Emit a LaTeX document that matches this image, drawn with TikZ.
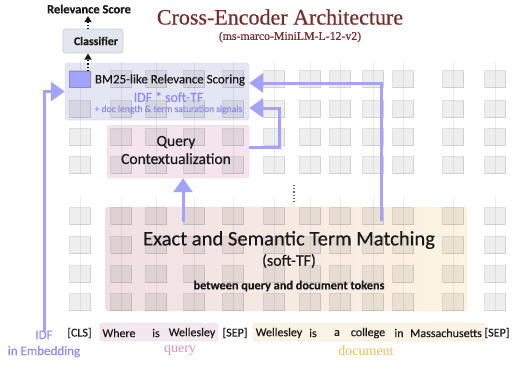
\documentclass[tikz,border=0pt]{standalone}
\usepackage{fontspec}
\setmainfont[FakeBold=0.35]{Carlito}
\newfontfamily\titlefont[FakeBold=0.5]{Liberation Serif}
\newfontfamily\labelfont{Liberation Serif}
\usetikzlibrary{arrows.meta}
\definecolor{lav}{HTML}{A3A3FB}
\definecolor{lavtext}{HTML}{8C8CF0}
\definecolor{titlered}{HTML}{7A2C2C}
\definecolor{bmfill}{HTML}{E4E6F3}
\definecolor{bmdraw}{HTML}{D2D4E2}
\definecolor{qcfill}{HTML}{F3E5EB}
\definecolor{qcdraw}{HTML}{E6D4DC}
\definecolor{emleft}{HTML}{EFDFE4}
\definecolor{emright}{HTML}{FDF4E2}
\definecolor{qhl}{HTML}{F4E8EE}
\definecolor{dhl}{HTML}{FBF3E3}
\definecolor{qlabel}{HTML}{E590B4}
\definecolor{dlabel}{HTML}{E9BE5C}
\definecolor{clsfill}{HTML}{E4E6EE}
\definecolor{clsdraw}{HTML}{C9CBD6}
\definecolor{ink}{HTML}{1A1A1A}
\begin{document}
\begin{tikzpicture}[x=1pt,y=-1pt,
  panel/.style={rounded corners=3pt, inner sep=0pt},
  tok/.style={fill=black, fill opacity=0.065, draw=black, draw opacity=0.12, line width=0.8pt},
  gridline/.style={draw=black, draw opacity=0.07, line width=0.6pt},
  bigarrow/.style={draw=lav, line width=3pt, -{Triangle[width=19pt,length=14pt]}},
  dotarrow/.style={draw=ink, line width=1.2pt, dotted, -{Triangle[width=7pt,length=6pt]}},
  txt/.style={text=ink, inner sep=0pt},
  token/.style={text=ink, inner sep=0pt, font=\fontsize{12}{12}\selectfont}
]
\useasboundingbox (0,0) rectangle (515,368);

% panels
\node[panel, fill=bmfill, draw=bmdraw, minimum width=184pt, minimum height=57pt] (bm) at (157,91.5) {};
\node[panel, fill=qcfill, draw=qcdraw, minimum width=142pt, minimum height=53pt] (qc) at (178,151.5) {};
\node[panel, left color=emleft, right color=emright, draw=black!8, minimum width=362pt, minimum height=104pt] (em) at (286,259) {};

% grid lines
\foreach \cx in {80,121,156,194,233,274,310,340,373,403,453,495}{
  \draw[gridline] (\cx,62) -- (\cx,174);
  \draw[gridline] (\cx,197) -- (\cx,311);
}
% token boxes
\foreach \cx in {80,121,156,194,233,274,310,340,373,403,453,495}{
  \foreach \cy in {79,109,137,165,216,245,274,302}{
    \draw[tok] (\cx-10.5,\cy-8.5) rectangle (\cx+10.5,\cy+8.5);
  }
}
% CLS output square
\node[fill=lav, draw=lav!85!black, line width=0.6pt, minimum width=21pt, minimum height=16pt, inner sep=0pt] (clsout) at (80,79) {};

% classifier
\node[panel, fill=clsfill, draw=clsdraw, line width=0.8pt, minimum width=60pt, minimum height=24pt] (cl) at (93,41) {};
\node[txt, font=\fontsize{11.8}{11.8}\selectfont\bfseries] (cltext) at (96,41) {Classifier};
\node[txt, font=\fontsize{12.5}{12.5}\selectfont\bfseries] (rs) at (89,9) {Relevance Score};

\draw[dotarrow] (88,71) -- (88,53.5);
\draw[dotarrow] (88,29) -- (88,16);

% title
\node[inner sep=0pt, text=titlered, font=\titlefont\fontsize{22}{22}\selectfont] (title) at (280,17) {Cross-Encoder Architecture};
\node[inner sep=0pt, text=titlered, font=\titlefont\fontsize{11.8}{11.8}\selectfont] (subtitle) at (290,37) {(ms-marco-MiniLM-L-12-v2)};

% BM25 panel text
\node[txt, font=\fontsize{12.9}{12.9}\selectfont] (bmt1) at (170,80) {BM25-like Relevance Scoring};
\node[inner sep=0pt, text=lavtext, font=\fontsize{13.8}{13.8}\selectfont] (bmt2) at (168.5,97) {IDF * soft-TF};
\node[inner sep=0pt, text=lavtext, font=\fontsize{9.6}{9.6}\selectfont] (bmt3) at (168.5,109.5) {+ doc length \& term saturation signals};

% query contextualization text
\node[txt, align=center, font=\fontsize{15.5}{18}\selectfont] (qct) at (176,150) {Query\\Contextualization};

% exact matching text
\node[txt, font=\fontsize{20.6}{20.6}\selectfont] (emt1) at (289,240) {Exact and Semantic Term Matching};
\node[txt, font=\fontsize{16}{16}\selectfont] (emt2) at (289,261) {(soft-TF)};
\node[txt, font=\fontsize{12.3}{12.3}\selectfont\bfseries] (emt3) at (289,286) {between query and document tokens};

% dots between layers
\draw[ink!70, line width=1.2pt, dotted] (294,185) -- (294,203);

% token highlights
\node[panel, fill=qhl, draw=qhl!90!black, minimum width=118pt, minimum height=18pt] (qh) at (159,332) {};
\node[panel, fill=dhl, draw=dhl!92!black, minimum width=232pt, minimum height=18pt] (dh) at (369,332) {};

% tokens
\foreach \cx/\w [count=\i] in {79.5/{[CLS]},119/Where,156/is,192/Wellesley,235/{[SEP]},279/Wellesley,313/is,337/a,368/college,399/in,446/Massachusetts,497/{[SEP]}}{
  \node[token] (t\i) at (\cx,333) {\w};
}
\node[inner sep=0pt, text=qlabel, font=\labelfont\fontsize{14}{14}\selectfont] (ql) at (180,351) {query};
\node[inner sep=0pt, text=dlabel, font=\labelfont\fontsize{14}{14}\selectfont] (dl) at (366,351) {document};

\node[inner sep=0pt, text=lavtext, align=center, font=\fontsize{13}{16}\selectfont] (idf) at (44,344) {IDF\\in Embedding};

% big arrows
\coordinate (emtap) at (381,221);
\coordinate (emtap2) at (183,222);
\draw[bigarrow] (idf.north) |- (bm.west);
\draw[bigarrow] (emtap) |- ([yshift=8.5pt]bm.east);
\draw[bigarrow] ([yshift=4.5pt]qc.east) -| (279,108) -- ([yshift=-16.5pt]bm.east);
\draw[bigarrow] (emtap2) -- (emtap2 |- qc.south);
\end{tikzpicture}
\end{document}
